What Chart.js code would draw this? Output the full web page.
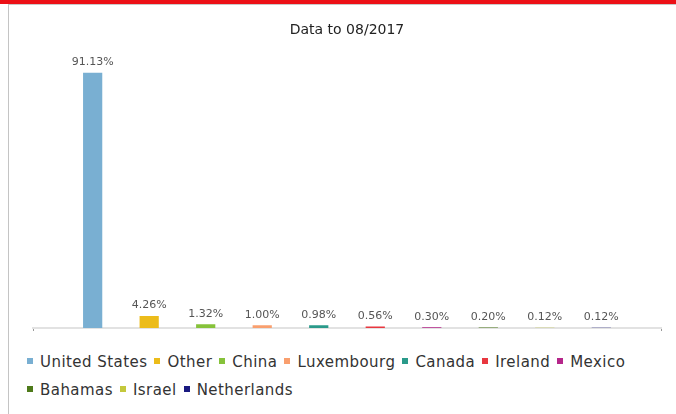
<!DOCTYPE html>
<html>
<head>
<meta charset="utf-8">
<script src="https://cdn.jsdelivr.net/npm/chart.js@4/dist/chart.umd.min.js"></script>
<style>
  html, body { margin: 0; padding: 0; background: #fff; }
  body { width: 676px; height: 414px; position: relative; overflow: hidden; font-family: "DejaVu Sans", sans-serif; }
  #topbar { position: absolute; left: 0; top: 0; width: 676px; height: 4px; background: #ec1016; }
  #topline { position: absolute; left: 8px; top: 4px; width: 668px; height: 1px; background: #c8c8c8; }
  #leftline { position: absolute; left: 8px; top: 4px; width: 1px; height: 410px; background: #c4c4c4; }
  #wrap { position: absolute; left: 9px; top: 5px; width: 667px; height: 340px; }
  #legend { position: absolute; left: 27px; top: 348px; width: 645px; font-size: 15px; color: #333; line-height: 28px; letter-spacing: 0.45px; }
  .item { display: inline-block; white-space: nowrap; margin-right: 7px; }
  .box { display: inline-block; width: 6px; height: 6px; margin-right: 7px; vertical-align: middle; position: relative; top: -2px; }
</style>
</head>
<body>
<div id="topbar"></div>
<div id="topline"></div>
<div id="leftline"></div>
<div id="wrap"><canvas id="c"></canvas></div>
<div id="legend"></div>
<script>
const countries = ["United States", "Other", "China", "Luxembourg", "Canada", "Ireland", "Mexico", "Bahamas", "Israel", "Netherlands"];
const shares = [91.13, 4.26, 1.32, 1.00, 0.98, 0.56, 0.30, 0.20, 0.12, 0.12];
const colors = ["#79afd2", "#ecbc1a", "#86c23a", "#f99f6e", "#2a9a8a", "#e8373f", "#b5268a", "#4e7a1a", "#c4c83c", "#1a1a80"];
const titleText = "Data to 08/2017";

const datasets = countries.map((name, i) => ({
  label: name,
  data: [shares[i]],
  backgroundColor: colors[i],
  borderWidth: 0,
  categoryPercentage: 0.9,
  barPercentage: 0.34
}));

const valueLabels = {
  id: 'valueLabels',
  afterDatasetsDraw(chart) {
    const ctx = chart.ctx;
    ctx.save();
    ctx.font = '11px "DejaVu Sans", sans-serif';
    ctx.fillStyle = '#555';
    ctx.textAlign = 'center';
    ctx.textBaseline = 'bottom';
    chart.data.datasets.forEach((ds, i) => {
      const meta = chart.getDatasetMeta(i);
      meta.data.forEach((el, j) => {
        ctx.fillText(ds.data[j].toFixed(2) + '%', el.x, el.y - 5);
      });
    });
    ctx.restore();
  }
};

const chart = new Chart(document.getElementById('c'), {
  type: 'bar',
  data: { labels: [''], datasets },
  options: {
    responsive: true,
    maintainAspectRatio: false,
    animation: false,
    layout: { padding: { left: 24, right: 15, top: 0, bottom: 14 } },
    plugins: {
      legend: { display: false },
      tooltip: { enabled: false },
      title: {
        display: true,
        text: titleText,
        color: '#222',
        font: { family: '"DejaVu Sans", sans-serif', size: 14, weight: 'normal' },
        padding: { top: 17, bottom: 9 }
      }
    },
    scales: {
      x: {
        grid: { display: true, drawOnChartArea: false, drawTicks: true, tickLength: 3, color: '#999' },
        border: { display: true, color: '#e2e2e2', width: 2 },
        ticks: { display: false }
      },
      y: {
        display: false,
        min: 0,
        max: 100
      }
    }
  },
  plugins: [valueLabels]
});

const items = chart.options.plugins.legend.labels.generateLabels(chart);
const leg = document.getElementById('legend');
items.forEach(it => {
  const span = document.createElement('span');
  span.className = 'item';
  const b = document.createElement('span');
  b.className = 'box';
  b.style.background = it.fillStyle;
  span.appendChild(b);
  span.appendChild(document.createTextNode(it.text));
  leg.appendChild(span);
});
</script>
</body>
</html>
